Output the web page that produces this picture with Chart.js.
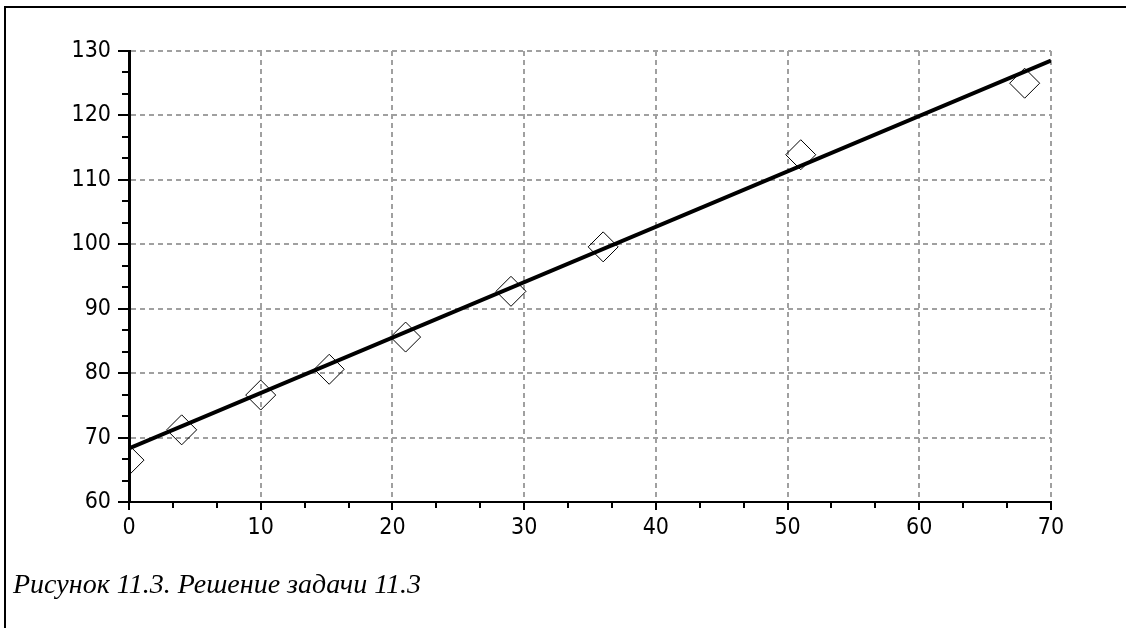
<!DOCTYPE html>
<html>
<head>
<meta charset="utf-8">
<script src="https://cdn.jsdelivr.net/npm/chart.js@4.4.1/dist/chart.umd.min.js"></script>
<style>
  html, body { margin: 0; padding: 0; background: #fff; }
  #wrap { position: relative; width: 1126px; height: 628px; overflow: hidden; background: #fff; }
  #frame { position: absolute; left: 4px; top: 6px; width: 1200px; height: 700px; border-top: 2px solid #000; border-left: 2px solid #000; }
  #box { position: absolute; left: 0; top: 0; width: 1126px; height: 628px; }
  #caption { position: absolute; left: 13px; top: 570px; font-family: "Liberation Serif", "Times New Roman", serif; font-style: italic; font-size: 28px; line-height: 28px; color: #000; white-space: nowrap; }
</style>
</head>
<body>
<div id="wrap">
  <div id="frame"></div>
  <div id="box"><canvas id="c"></canvas></div>
  <div id="caption">Рисунок 11.3. Решение задачи 11.3</div>
</div>
<script>
// Observed data points (diamonds)
const pointsX = [0, 4, 10, 15.2, 21, 29, 36, 51, 68];
const pointsY = [66.5, 71.2, 76.6, 80.6, 85.6, 92.7, 99.6, 113.9, 125.0];
// Fitted straight line endpoints
const fitX = [0, 70];
const fitY = [68.3, 128.5];
// Axis tick labels
const xTicks = [0, 10, 20, 30, 40, 50, 60, 70];
const yTicks = [60, 70, 80, 90, 100, 110, 120, 130];

const GRID = '#a0a0a0';

const tickPlugin = {
  id: 'minorMajorTicks',
  afterDraw(chart) {
    const ctx = chart.ctx;
    const xs = chart.scales.x, ys = chart.scales.y;
    const area = chart.chartArea;
    ctx.save();
    ctx.strokeStyle = '#000';
    ctx.lineWidth = 2;
    function marks(ticks) {
      const out = [];
      for (let i = 0; i < ticks.length; i++) {
        out.push({ v: ticks[i], major: true });
        if (i < ticks.length - 1) {
          const step = (ticks[i + 1] - ticks[i]) / 3;
          out.push({ v: ticks[i] + step, major: false });
          out.push({ v: ticks[i] + 2 * step, major: false });
        }
      }
      return out;
    }
    marks(xTicks).forEach(m => {
      const px = Math.round(xs.getPixelForValue(m.v));
      const len = m.major ? 8 : 6;
      ctx.beginPath();
      ctx.moveTo(px, area.bottom);
      ctx.lineTo(px, area.bottom + len);
      ctx.stroke();
    });
    marks(yTicks).forEach(m => {
      const py = Math.round(ys.getPixelForValue(m.v));
      const len = m.major ? 11 : 7;
      ctx.beginPath();
      ctx.moveTo(area.left, py);
      ctx.lineTo(area.left - len, py);
      ctx.stroke();
    });
    ctx.restore();
  }
};

const tickFont = { family: '"DejaVu Sans Condensed", "Liberation Sans Narrow", "Liberation Sans", sans-serif', size: 23 };

new Chart(document.getElementById('c'), {
  data: {
    datasets: [
      {
        type: 'line',
        data: fitX.map((x, i) => ({ x: x, y: fitY[i] })),
        borderColor: '#000',
        borderWidth: 4,
        pointRadius: 0,
        fill: false,
        order: 0
      },
      {
        type: 'scatter',
        data: pointsX.map((x, i) => ({ x: x, y: pointsY[i] })),
        pointStyle: 'rectRot',
        pointRadius: 15,
        pointBorderWidth: 1,
        pointBorderColor: '#000',
        pointBackgroundColor: 'rgba(255,255,255,0)',
        order: 1
      }
    ]
  },
  options: {
    responsive: true,
    maintainAspectRatio: false,
    animation: false,
    events: [],
    layout: { padding: { top: 51, right: 75, bottom: 86, left: 0 } },
    plugins: { legend: { display: false }, tooltip: { enabled: false } },
    scales: {
      x: {
        type: 'linear',
        min: 0, max: 70,
        afterBuildTicks: s => { s.ticks = xTicks.map(v => ({ value: v })); },
        afterFit: s => { s.height = 40; },
        ticks: { color: '#000', font: tickFont, padding: 12, maxRotation: 0, autoSkip: false },
        grid: {
          drawTicks: false,
          color: c => (c.tick && c.tick.value === 0) ? 'rgba(0,0,0,0)' : GRID,
          lineWidth: 2
        },
        border: { display: true, color: '#000', width: 2, dash: [5, 4] }
      },
      y: {
        type: 'linear',
        min: 60, max: 130,
        afterBuildTicks: s => { s.ticks = yTicks.map(v => ({ value: v })); },
        afterFit: s => { s.width = 129; },
        ticks: { color: '#000', font: tickFont, padding: 18, autoSkip: false },
        grid: {
          drawTicks: false,
          color: c => (c.tick && c.tick.value === 60) ? 'rgba(0,0,0,0)' : GRID,
          lineWidth: 2
        },
        border: { display: true, color: '#000', width: 3, dash: [5, 4] }
      }
    }
  },
  plugins: [tickPlugin]
});
</script>
</body>
</html>
